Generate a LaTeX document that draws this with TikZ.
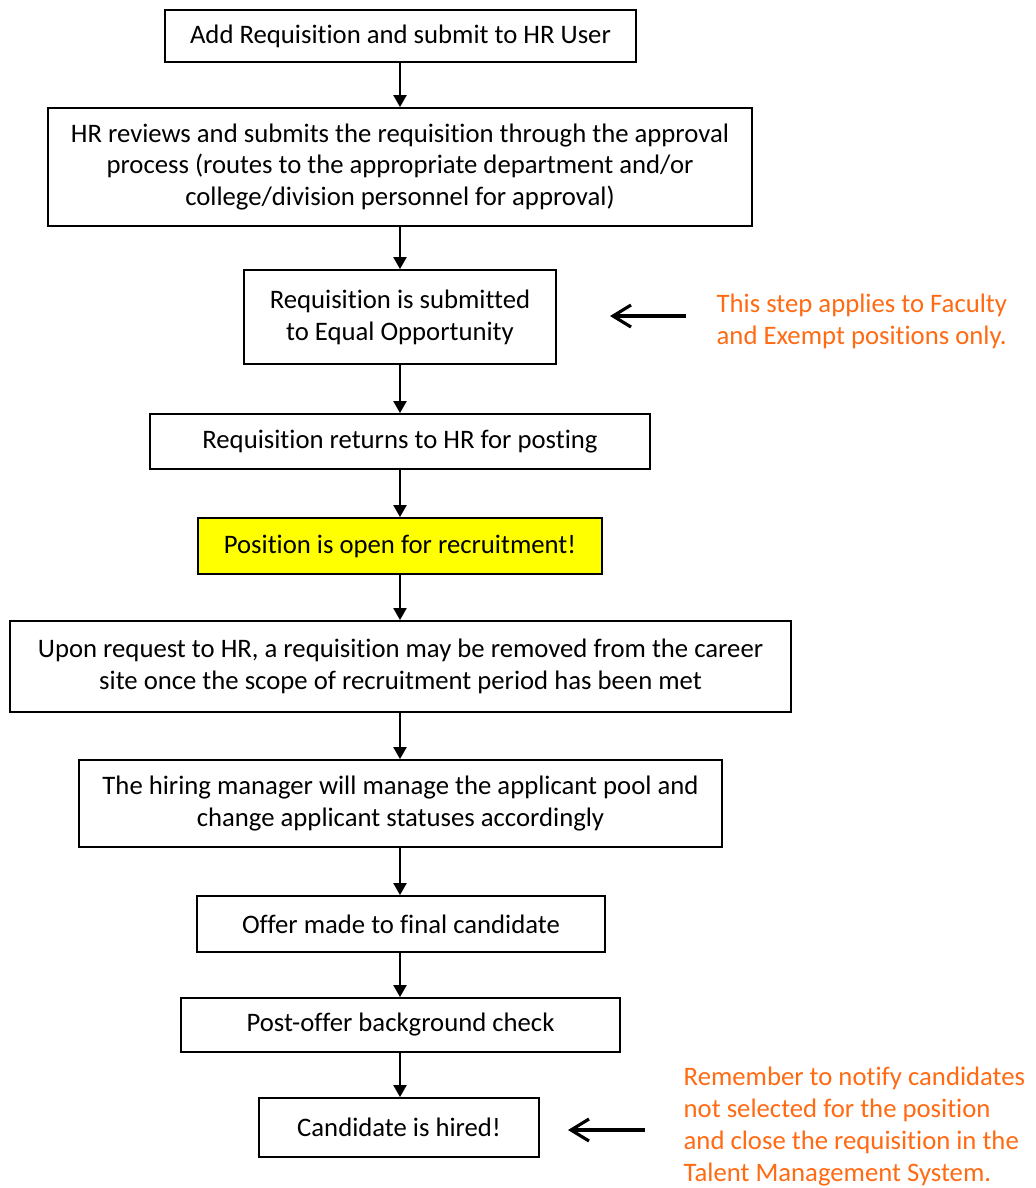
\documentclass[tikz,border=0pt]{standalone}
\usepackage{fontspec}
\setmainfont[Ligatures=NoCommon]{Carlito}
\usetikzlibrary{arrows.meta,positioning}
\definecolor{noteorange}{RGB}{255,106,19}
\definecolor{openyellow}{RGB}{255,255,0}

\begin{document}
\begin{tikzpicture}[
		stepbox/.style={draw, line width=0.5pt, align=center, inner sep=0pt, font=\fontsize{7.6pt}{9.1pt}\selectfont},
		note/.style={text=noteorange, align=left, inner sep=0pt, anchor=west, font=\fontsize{7.6pt}{9.1pt}\selectfont},
		flow/.style={-{Triangle[width=0.13cm,length=0.12cm]}, line width=0.6pt},
		pointer/.style={-{Straight Barb[length=0.18cm,width=0.22cm]}, line width=0.9pt}
	]
		\useasboundingbox (0,0) rectangle (10.35,-11.88);
		\node[stepbox, minimum width=4.71cm, minimum height=0.52cm] (add) at (4.005, -0.36) {Add Requisition and submit to HR User};
		\node[stepbox, minimum width=7.04cm, minimum height=1.18cm] (review) at (4.00, -1.67) {HR reviews and submits the requisition through the approval\\process (routes to the appropriate department and/or\\college/division personnel for approval)};
		\node[stepbox, minimum width=3.12cm, minimum height=0.94cm] (eo) at (4.00, -3.17) {Requisition is submitted\\to Equal Opportunity};
		\node[stepbox, minimum width=5.00cm, minimum height=0.55cm] (returns) at (4.00, -4.415) {Requisition returns to HR for posting};
		\node[stepbox, fill=openyellow, minimum width=4.04cm, minimum height=0.56cm] (open) at (4.00, -5.46) {Position is open for recruitment!};
		\node[stepbox, minimum width=7.81cm, minimum height=0.91cm] (remove) at (4.005, -6.665) {Upon request to HR, a requisition may be removed from the career\\site once the scope of recruitment period has been met};
		\node[stepbox, minimum width=6.43cm, minimum height=0.87cm] (pool) at (4.005, -8.035) {The hiring manager will manage the applicant pool and\\change applicant statuses accordingly};
		\node[stepbox, minimum width=4.08cm, minimum height=0.56cm] (offer) at (4.01, -9.24) {Offer made to final candidate};
		\node[stepbox, minimum width=4.39cm, minimum height=0.54cm] (check) at (4.005, -10.25) {Post-offer background check};
		\node[stepbox, minimum width=2.80cm, minimum height=0.59cm] (hired) at (3.99, -11.275) {Candidate is hired!};

		\draw[flow] (add.south -| 4,0) -- (review.north -| 4,0);
		\draw[flow] (review.south -| 4,0) -- (eo.north -| 4,0);
		\draw[flow] (eo.south -| 4,0) -- (returns.north -| 4,0);
		\draw[flow] (returns.south -| 4,0) -- (open.north -| 4,0);
		\draw[flow] (open.south -| 4,0) -- (remove.north -| 4,0);
		\draw[flow] (remove.south -| 4,0) -- (pool.north -| 4,0);
		\draw[flow] (pool.south -| 4,0) -- (offer.north -| 4,0);
		\draw[flow] (offer.south -| 4,0) -- (check.north -| 4,0);
		\draw[flow] (check.south -| 4,0) -- (hired.north -| 4,0);

		% side notes
		\node[note] (facnote) at (7.16, -3.21) {This step applies to Faculty\\and Exempt positions only.};
		\node[note] (tmsnote) at (6.83, -11.265) {Remember to notify candidates\\not selected for the position\\and close the requisition in the\\Talent Management System.};
		\coordinate (facfrom) at (6.86, -3.16);
		\coordinate (facto) at (6.10, -3.16);
		\coordinate (tmsfrom) at (6.45, -11.30);
		\coordinate (tmsto) at (5.68, -11.30);
		\draw[pointer] (facfrom) -- (facto);
		\draw[pointer] (tmsfrom) -- (tmsto);
\end{tikzpicture}
\end{document}
